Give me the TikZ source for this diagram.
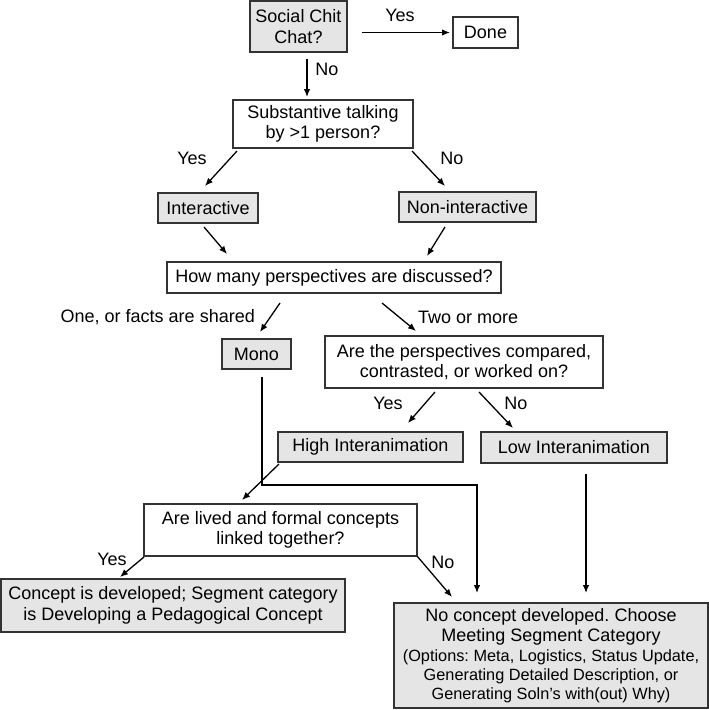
\documentclass[tikz,border=0pt]{standalone}
\usepackage{fontspec}
\setmainfont{Liberation Sans}
\usetikzlibrary{arrows.meta}
\begin{document}
\frenchspacing
\begin{tikzpicture}[x=1pt,y=-1pt,
  every node/.style={font=\fontsize{18}{20.5}\selectfont},
  box/.style={draw=black!80, line width=1.2pt, inner sep=0pt, outer sep=0pt, align=center},
  gbox/.style={box, fill=black!10},
  lbl/.style={inner sep=0pt},
  arr/.style={line width=1.3pt, -{Latex[length=8pt,width=6.5pt]}},
  ln/.style={line width=1.3pt}]
\useasboundingbox (0,0) rectangle (709,710);
% boxes
\node[gbox, minimum width=97, minimum height=51] (soc) at (298.5,26.5) {Social Chit\\Chat?};
\node[box, minimum width=65, minimum height=31] (done) at (485.5,32.5) {Done};
\node[box, minimum width=180, minimum height=48] (sub) at (323,124) {Substantive talking\\by {>}1 person?};
\node[gbox, minimum width=100, minimum height=30] (inter) at (208,208) {Interactive};
\node[gbox, minimum width=137, minimum height=30] (non) at (467.5,207) {Non-interactive};
\node[box, minimum width=334, minimum height=31] (how) at (334,277.5) {How many perspectives are discussed?};
\node[gbox, minimum width=69, minimum height=30] (mono) at (256.5,354) {Mono};
\node[box, minimum width=278, minimum height=52] (are) at (464,362) {Are the perspectives compared,\\contrasted, or worked on?};
\node[gbox, minimum width=185, minimum height=30] (high) at (370.5,447) {High Interanimation};
\node[gbox, minimum width=186, minimum height=31] (low) at (574,447.5) {Low Interanimation};
\node[box, minimum width=273, minimum height=52] (lived) at (280.5,530) {Are lived and formal concepts\\linked together?};
\node[gbox, minimum width=344, minimum height=53] (concept) at (173,605.5) {Concept is developed; Segment category\\is Developing a Pedagogical Concept};
\node[gbox, minimum width=314, minimum height=105] (nocon) at (551,655.5) {No concept developed. Choose\\Meeting Segment Category\\[-1pt]{\fontsize{16.3}{19}\selectfont (Options: Meta, Logistics, Status Update,}\\[-1.5pt]{\fontsize{16.3}{19}\selectfont Generating Detailed Description, or}\\[-1.5pt]{\fontsize{16.3}{19}\selectfont Generating Soln’s with(out) Why)}};
% labels
\node[lbl] (l1) at (400,15) {Yes};
\node[lbl] (l2) at (327,69) {No};
\node[lbl] (l3) at (192,158) {Yes};
\node[lbl] (l4) at (452,158) {No};
\node[lbl, anchor=east] (l5) at (255,317) {One, or facts are shared};
\node[lbl, anchor=west] (l6) at (418,317) {Two or more};
\node[lbl] (l7) at (388,403) {Yes};
\node[lbl] (l8) at (516,403) {No};
\node[lbl] (l9) at (112,559) {Yes};
\node[lbl] (l10) at (443,562) {No};
% connectors
\draw[arr, shorten <=15pt, shorten >=3pt] (soc.east |- done.west) -- (done.west);
\coordinate (c1) at ([shift={(8.5,0)}]soc.south);
\draw[arr, shorten <=7pt, shorten >=3pt] (c1) -- (c1 |- sub.north);
\draw[arr] ([shift={(4,3)}]sub.south west) -- ([shift={(-3,-7)}]inter.north);
\draw[arr] ([shift={(-1,3)}]sub.south east) -- ([shift={(-22.5,-6)}]non.north);
\draw[arr] ([shift={(-4,4)}]inter.south) -- ([shift={(-107,-8)}]how.north);
\draw[arr] ([shift={(-22.5,5)}]non.south) -- ([shift={(93,-6)}]how.north);
\draw[arr] ([shift={(-54,10)}]how.south) -- ([shift={(3.5,-7)}]mono.north);
\draw[arr] ([shift={(48,10)}]how.south) -- ([shift={(91,-5)}]are.north west);
\draw[arr] ([shift={(-29,4)}]are.south) -- ([shift={(37.5,-9)}]high.north);
\draw[arr] ([shift={(15,4)}]are.south) -- ([shift={(32,-4)}]low.north west);
\draw[arr] ([shift={(1,2)}]high.south west) -- ([shift={(-38.5,-4)}]lived.north);
\coordinate (m1) at ([shift={(5.5,8)}]mono.south);
\coordinate (m2) at ([shift={(83,-10)}]nocon.north west);
\draw[arr] (m1) -- (m1 |- 0,485) -- (m2 |- 0,485) -- (m2);
\coordinate (lw) at ([shift={(192,-10)}]nocon.north west);
\draw[arr] (lw |- 0,474) -- (lw);
\draw[arr] ([shift={(0,1)}]lived.south west) -- ([shift={(-53,-2)}]concept.north);
\draw[arr] (lived.south east) -- ([shift={(58,-6)}]nocon.north west);
\end{tikzpicture}
\end{document}
